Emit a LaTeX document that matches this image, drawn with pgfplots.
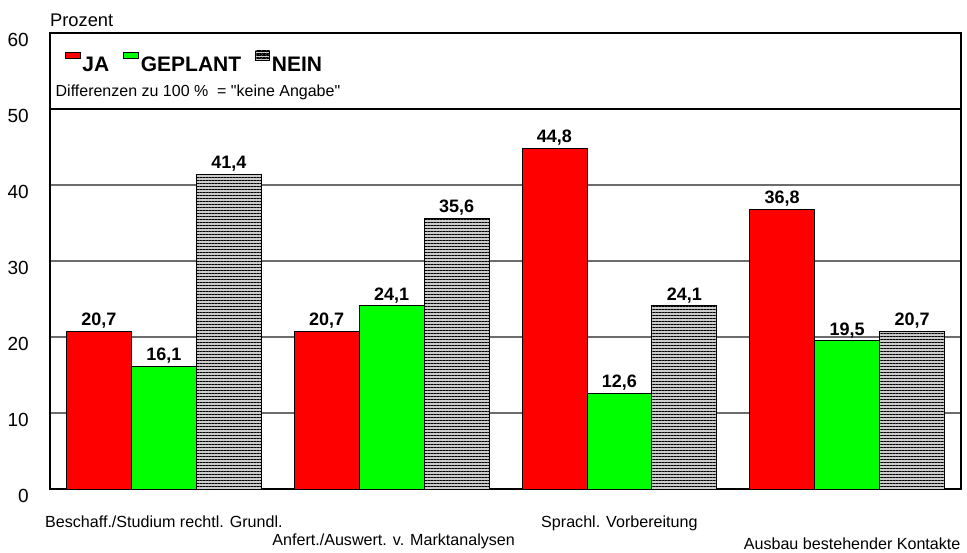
\documentclass[border=0pt]{standalone}
\usepackage{fontspec}
\setmainfont{Liberation Sans}
\newfontfamily\qfont{Liberation Sans}[Ligatures=TeXOff]
\usepackage{pgfplots}
\pgfplotsset{compat=1.18}
\usetikzlibrary{patterns.meta,calc}
\definecolor{jared}{RGB}{255,0,0}
\definecolor{plgreen}{RGB}{0,255,0}
\begin{document}
\begin{tikzpicture}
\begin{axis}[
  scale only axis,
  width=911pt, height=456pt,
  xmin=-0.5, xmax=3.5, ymin=0, ymax=60,
  ytick={0,10,20,30,40,50,60},
  xtick=\empty,
  ymajorgrids,
  major grid style={gray!85!black, line width=1.2pt},
  axis line style={black, line width=1.3pt},
  major tick length=0pt,
  yticklabel style={font=\fontsize{19}{22}\selectfont, anchor=east, inner sep=0pt, xshift=-21pt, yshift=-7pt},
  /pgf/number format/assume math mode=true,
  ybar=0pt,
  bar width=0.285,
  clip=false,
  nodes near coords={\pgfmathprintnumber[fixed,fixed zerofill,precision=1,use comma]{\pgfplotspointmeta}},
  every node near coord/.append style={font=\fontsize{18}{20}\selectfont\bfseries, inner sep=2.5pt, black},
  legend style={at={(rel axis cs:0.016,0.962)}, anchor=north west, draw=none, fill=none,
    font=\fontsize{21}{24}\selectfont\bfseries, inner sep=0pt,
    /tikz/every even column/.append style={column sep=12pt},
    /tikz/every odd column/.append style={column sep=0pt}},
  legend columns=-1,
  legend cell align=left,
]
\addplot[fill=jared, draw=black, line width=0.8pt,
  legend image code/.code={\draw[fill=jared,draw=black,line width=0.6pt] (0pt,7pt) rectangle (15pt,13pt);}]
  coordinates {(0,20.7) (1,20.7) (2,44.8) (3,36.8)};
\addplot[fill=plgreen, draw=black, line width=0.8pt,
  legend image code/.code={\draw[fill=plgreen,draw=black,line width=0.6pt] (0pt,7pt) rectangle (15pt,13pt);}]
  coordinates {(0,16.1) (1,24.1) (2,12.6) (3,19.5)};
\addplot[fill=gray!40, draw=black, line width=0.8pt,
  postaction={pattern={Lines[angle=0,distance=3pt,line width=1pt]}, pattern color=black},
  legend image code/.code={\draw[fill=gray!40,draw=black,line width=0.6pt,postaction={pattern={Lines[angle=0,distance=2.5pt,line width=0.8pt]}, pattern color=black}] (0pt,5pt) rectangle (14pt,14pt);}]
  coordinates {(0,41.4) (1,35.6) (2,24.1) (3,20.7)};
\legend{JA,GEPLANT,NEIN}
\draw[black, line width=1.3pt] (axis cs:-0.5,50) -- (axis cs:3.5,50);
\node[anchor=base west, inner sep=0pt, font=\fontsize{16}{18}\selectfont] at (rel axis cs:0.006,0.860) {Differenzen zu 100 \%\ \ = {\qfont"}keine Angabe{\qfont"}};
\node[anchor=base west, inner sep=0pt, font=\fontsize{18.3}{20}\selectfont] at ($(rel axis cs:0,1)+(0pt,6pt)$) {Prozent};
\node[anchor=base, inner sep=0pt, font=\fontsize{16.1}{18}\selectfont] at ($(axis cs:0,0)+(0pt,-39pt)$) {Beschaff./Studium rechtl. Grundl.};
\node[anchor=base, inner sep=0pt, font=\fontsize{16.1}{18}\selectfont] at ($(axis cs:1,0)+(2pt,-57pt)$) {Anfert./Auswert. v. Marktanalysen};
\node[anchor=base, inner sep=0pt, font=\fontsize{16.1}{18}\selectfont] at ($(axis cs:2,0)+(0pt,-39pt)$) {Sprachl. Vorbereitung};
\node[anchor=base, inner sep=0pt, font=\fontsize{16.1}{18}\selectfont] at ($(axis cs:3,0)+(5pt,-61pt)$) {Ausbau bestehender Kontakte};
\end{axis}
\pgfresetboundingbox
\path[use as bounding box] ($(current axis.south west)+(-50pt,-64pt)$) rectangle ($(current axis.north east)+(6pt,33pt)$);
\end{tikzpicture}
\end{document}
